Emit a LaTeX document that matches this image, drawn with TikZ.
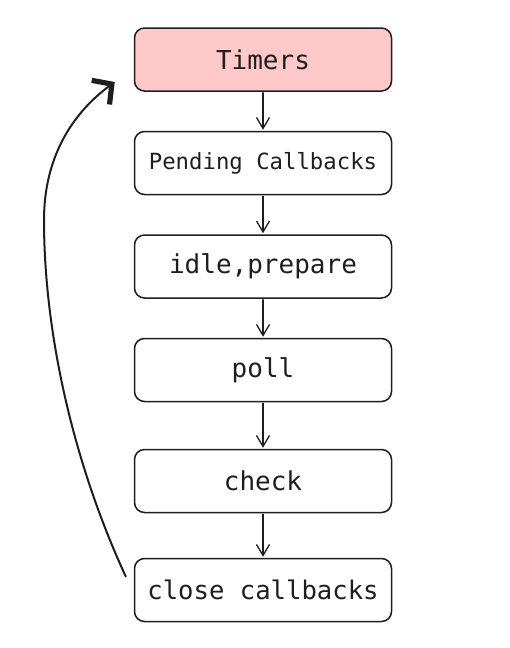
\documentclass[tikz,border=0pt]{standalone}
\usepackage{fontspec}
\setmonofont{DejaVu Sans Mono}
\usetikzlibrary{arrows.meta,positioning}
\definecolor{timerpink}{HTML}{FFC9C9}
\definecolor{inkgray}{HTML}{1E1E1E}

\begin{document}
\begin{tikzpicture}[x=1pt,y=-1pt,node distance=103.5pt,>={Straight Barb[length=11pt,width=13pt]},auto]
		\tikzstyle{phase}=[rectangle, rounded corners=10pt, draw=inkgray, line width=1.5pt, minimum width=257pt, minimum height=63pt, text=inkgray, font=\ttfamily\fontsize{26}{30}\selectfont]
		\tikzstyle{flow}=[->, line width=1.3pt, draw=inkgray, line cap=round, shorten <=1pt, shorten >=1pt]
		\tikzstyle{looparrow}=[-{Straight Barb[length=14pt,width=30pt,line width=3.2pt 1]}, line width=2pt, draw=inkgray, line cap=round]

		\useasboundingbox (0,0) rectangle (510,648);

		\node [phase, fill=timerpink] (timers) at (263,59.5) {Timers};
		\node [phase, below of=timers, font=\ttfamily\fontsize{22.3}{26}\selectfont] (pending) {Pending Callbacks};
		\node [phase, below of=pending] (idle) {idle,prepare};
		\node [phase, below of=idle] (poll) {poll};
		\node [phase, node distance=111pt, below of=poll] (check) {check};
		\node [phase, node distance=109pt, below of=check, font=\ttfamily\fontsize{25.6}{30}\selectfont] (close) {close callbacks};

		\draw [flow] (timers) -- (pending);
		\draw [flow] (pending) -- (idle);
		\draw [flow] (idle) -- (poll);
		\draw [flow] (poll) -- (check);
		\draw [flow] (check) -- (close);

		% back to the first phase
		\coordinate (loopstart) at ([xshift=-8pt,yshift=13.5pt]close.west);
		\coordinate (loopend) at ([xshift=-19pt,yshift=-22.5pt]timers.west);
		\draw [looparrow] (loopstart) .. controls (72,460) and (44,330) .. (44,220)
			.. controls (44,160) and (70,115) .. (loopend);
	\end{tikzpicture}
\end{document}
